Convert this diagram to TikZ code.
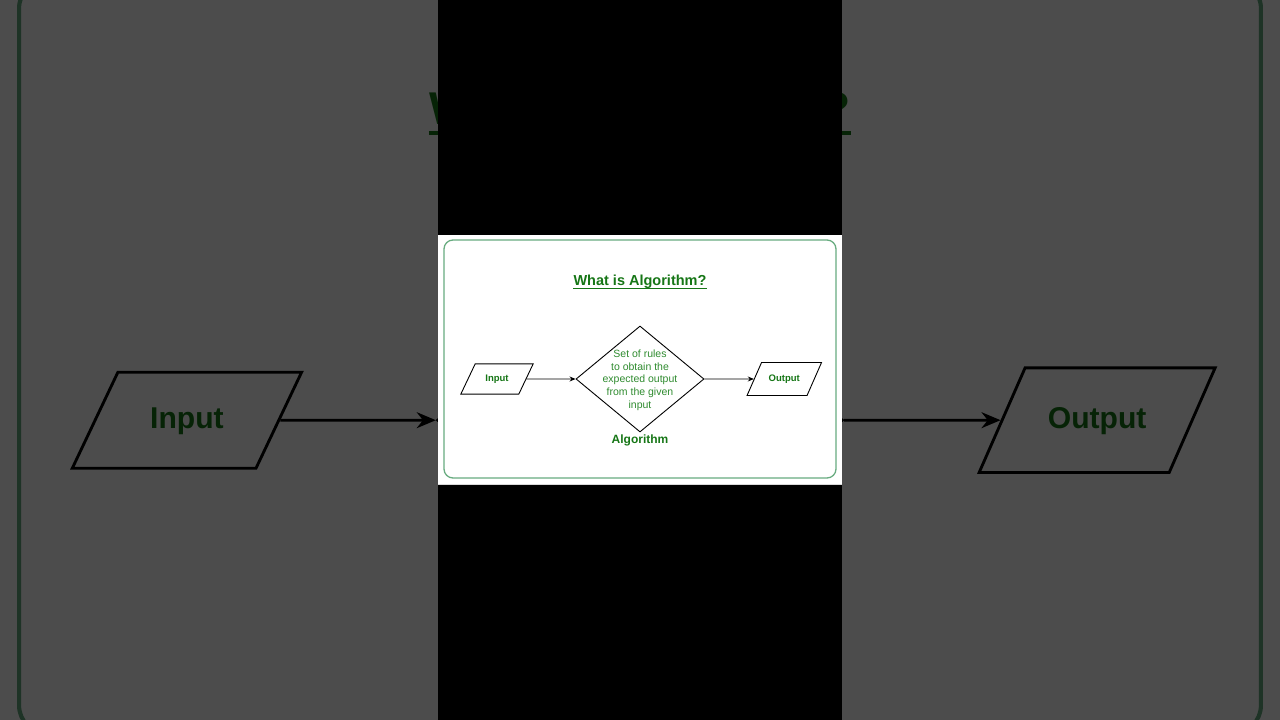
\documentclass[tikz,border=0pt]{standalone}
\usepackage{fontspec}
\setmainfont{Liberation Sans}
\usetikzlibrary{shapes.geometric, arrows.meta, positioning}

\definecolor{ttlgreen}{RGB}{22,118,22}
\definecolor{txtgreen}{RGB}{48,140,48}
\definecolor{framegreen}{RGB}{104,172,128}

% the card that is drawn twice (once blown up behind, once in the middle)
\newcommand{\algocard}{%
\fill[white] (-202,-125) rectangle (202,125);
\draw[gray!30, line width=1pt] (-202,-124.5) -- (202,-124.5);
\draw[framegreen, line width=1.3pt, rounded corners=9pt] (-196,-118) rectangle (196,120);
\node[cardtitle, anchor=base] (ttl) at (0,74.3) {What is Algorithm?};
\draw[ttlgreen, line width=1.2pt] ([yshift=-2.6pt]ttl.base west) -- ([yshift=-2.6pt]ttl.base east);
\node[decision] (algo) at (0,-19) {};
\node[rules, yshift=-1pt] (rulestxt) at (algo.center) {Set of rules\\to obtain the\\expected output\\from the given\\input};
\node[algolbl, below=2.2pt of algo] (algoname) {Algorithm};
\node[io, text width=43.6pt, inner ysep=10.65pt, trapezium left angle=64.6, trapezium right angle=115.4] (in) at (-143,-19) {Input};
\node[io, text width=45.5pt, inner ysep=12pt, trapezium left angle=66.3, trapezium right angle=113.7] (out) at (144.3,-19) {Output};
\draw[flow] (in) -- (algo);
\draw[flow] (algo) -- (out);
}

\begin{document}
\begin{tikzpicture}[x=1pt, y=1pt,
  cardtitle/.style={inner sep=0pt, text=ttlgreen, font=\fontsize{14.5}{16}\selectfont\bfseries},
  decision/.style={diamond, draw, line width=0.9pt, minimum width=128pt, minimum height=106pt, inner sep=0pt},
  rules/.style={align=center, inner sep=0pt, text=txtgreen, font=\fontsize{10.5}{12.7}\selectfont},
  algolbl/.style={inner sep=0pt, text=ttlgreen, font=\fontsize{12}{14}\selectfont\bfseries},
  io/.style={trapezium, draw, line width=0.9pt, inner xsep=0pt, text height=7pt, text depth=2pt,
    align=center, text=ttlgreen, font=\fontsize{9.5}{11}\selectfont\bfseries},
  flow/.style={-{Stealth[length=6pt, width=5pt]}, line width=0.9pt}]
\useasboundingbox (-640,-360) rectangle (640,360);
% blown-up copy behind, darkened
\begin{scope}[transform canvas={scale=3.168}]
\algocard
\end{scope}
\fill[black, opacity=0.7] (-640,-360) rectangle (640,360);
% black strip and the card itself
\fill[black] (-202,-360) rectangle (202,360);
\algocard
\end{tikzpicture}
\end{document}
